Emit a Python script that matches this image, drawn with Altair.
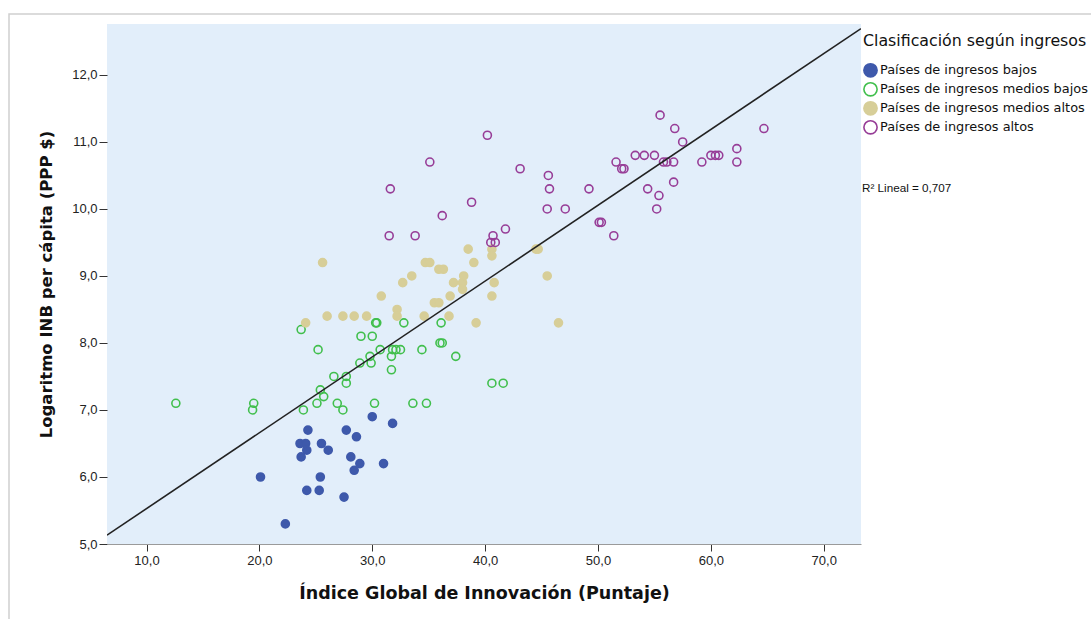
import altair as alt
import pandas as pd

grupos = [
    "Países de ingresos bajos",
    "Países de ingresos medios bajos",
    "Países de ingresos medios altos",
    "Países de ingresos altos",
]
colores = ["#3E59AB", "#41BF4D", "#D7CE98", "#973D97"]
rellenos = ["#3E59AB", "transparent", "#D7CE98", "transparent"]

bajos_x = [30.0, 31.8, 24.3, 27.7, 28.6, 23.6, 24.1, 25.5, 24.2, 26.1, 23.7, 28.1, 28.9, 31.0, 28.4, 20.1, 25.4, 24.2, 25.3, 27.5, 22.3]
bajos_y = [6.9, 6.8, 6.7, 6.7, 6.6, 6.5, 6.5, 6.5, 6.4, 6.4, 6.3, 6.3, 6.2, 6.2, 6.1, 6.0, 6.0, 5.8, 5.8, 5.7, 5.3]

medbajos_x = [12.6, 19.5, 19.4, 23.9, 25.1, 25.4, 25.7, 26.9, 27.4, 26.6, 27.7, 27.7, 30.2, 33.6, 34.8,
              23.7, 25.2, 29.0, 30.0, 30.3, 30.4, 32.8, 36.1, 28.9, 29.8, 29.9, 30.7, 31.8, 32.1, 32.5,
              31.7, 31.7, 34.4, 36.0, 36.2, 37.4, 40.6, 41.6]
medbajos_y = [7.1, 7.1, 7.0, 7.0, 7.1, 7.3, 7.2, 7.1, 7.0, 7.5, 7.5, 7.4, 7.1, 7.1, 7.1,
              8.2, 7.9, 8.1, 8.1, 8.3, 8.3, 8.3, 8.3, 7.7, 7.8, 7.7, 7.9, 7.9, 7.9, 7.9,
              7.8, 7.6, 7.9, 8.0, 8.0, 7.8, 7.4, 7.4]

medaltos_x = [25.6, 24.1, 26.0, 27.4, 28.4, 29.5, 30.8, 32.2, 32.2, 32.7, 33.5, 34.7, 35.1, 35.9, 36.3,
              34.6, 35.5, 35.9, 36.9, 36.8, 37.2, 38.0, 38.1, 38.0, 38.5, 39.0, 39.2, 40.6, 40.6, 40.6,
              40.8, 44.5, 44.7, 45.5, 46.5]
medaltos_y = [9.2, 8.3, 8.4, 8.4, 8.4, 8.4, 8.7, 8.5, 8.4, 8.9, 9.0, 9.2, 9.2, 9.1, 9.1,
              8.4, 8.6, 8.6, 8.7, 8.4, 8.9, 8.9, 9.0, 8.8, 9.4, 9.2, 8.3, 9.4, 9.3, 8.7,
              8.9, 9.4, 9.4, 9.0, 8.3]

altos_x = [40.2, 35.1, 43.1, 45.6, 45.7, 31.6, 49.2, 38.8, 36.2, 45.5, 47.1, 31.5, 33.8, 41.8, 40.7,
           40.5, 40.9, 50.1, 50.3, 55.5, 64.7, 56.8, 57.5, 62.3, 53.3, 54.1, 55.0, 60.0, 60.4, 60.7,
           51.6, 52.1, 52.3, 55.8, 56.1, 56.7, 59.2, 62.3, 56.7, 54.4, 55.4, 55.2, 51.4]
altos_y = [11.1, 10.7, 10.6, 10.5, 10.3, 10.3, 10.3, 10.1, 9.9, 10.0, 10.0, 9.6, 9.6, 9.7, 9.6,
           9.5, 9.5, 9.8, 9.8, 11.4, 11.2, 11.2, 11.0, 10.9, 10.8, 10.8, 10.8, 10.8, 10.8, 10.8,
           10.7, 10.6, 10.6, 10.7, 10.7, 10.7, 10.7, 10.7, 10.4, 10.3, 10.2, 10.0, 9.6]

x_ticks = [10, 20, 30, 40, 50, 60, 70]
y_ticks = [5, 6, 7, 8, 9, 10, 11, 12]
x_dominio = [6.5, 73.3]
y_dominio = [5.0, 12.76]
r2_texto = "R² Lineal = 0,707"

filas = []
for g, xs, ys in zip(grupos, [bajos_x, medbajos_x, medaltos_x, altos_x], [bajos_y, medbajos_y, medaltos_y, altos_y]):
    for a, b in zip(xs, ys):
        filas.append({"x": a, "y": b, "grupo": g})
df = pd.DataFrame(filas)

fmt = "replace(format(datum.value, '.1f'), '.', ',')"

x_enc = alt.X("x:Q", scale=alt.Scale(domain=x_dominio, nice=False, zero=False),
              axis=alt.Axis(values=x_ticks, labelExpr=fmt, title="Índice Global de Innovación (Puntaje)",
                            grid=False, tickSize=7, labelPadding=3, titlePadding=17,
                            titleFontSize=17.5,
                            domain=True, domainColor="#9a9a9a"))
y_enc = alt.Y("y:Q", scale=alt.Scale(domain=y_dominio, nice=False, zero=False),
              axis=alt.Axis(values=y_ticks, labelExpr=fmt, title="Logaritmo INB per cápita (PPP $)",
                            grid=False, tickSize=8, labelPadding=2, titlePadding=17,
                            titleFontSize=16.5, domain=False))

leyenda = alt.Legend(title="Clasificación según ingresos", orient="none", legendX=756, legendY=10,
                     symbolType="circle", symbolSize=175, symbolStrokeWidth=1.6,
                     labelLimit=500, titleLimit=500, labelFontSize=12.9, titleFontSize=15.8,
                     titleFontWeight="normal", titlePadding=13, rowPadding=-2, labelOffset=2,
                     labelColor="#111", titleColor="#111")

puntos = alt.Chart(df).mark_point(shape="circle", size=64, strokeWidth=1.6, opacity=1).encode(
    x=x_enc,
    y=y_enc,
    stroke=alt.Stroke("grupo:N", scale=alt.Scale(domain=grupos, range=colores), legend=leyenda),
    fill=alt.Fill("grupo:N", scale=alt.Scale(domain=grupos, range=rellenos), legend=leyenda),
)

linea = alt.Chart(df).transform_regression("x", "y", extent=x_dominio).mark_line(
    color="#222222", strokeWidth=1.6, clip=True
).encode(x="x:Q", y="y:Q")

r2 = alt.Chart(pd.DataFrame({"t": [r2_texto]})).mark_text(
    align="left", baseline="middle", fontSize=11.7, color="#111"
).encode(text="t:N", x=alt.value(755), y=alt.value(164))

marco = alt.Chart(pd.DataFrame({"k": [0]})).mark_rect(
    fill=None, stroke="#d0d0d0", strokeWidth=1.5, clip=False
).encode(x=alt.value(-98), x2=alt.value(1200), y=alt.value(-10), y2=alt.value(700))

chart = alt.layer(marco, puntos, linea, r2).properties(
    width=754, height=520,
    autosize=alt.AutoSizeParams(type="none"),
    padding={"left": 107, "top": 24, "right": 230, "bottom": 75},
    background="white",
).configure_view(fill="#E2EEFA", stroke=None).configure_axis(
    labelFont="Liberation Sans", titleFont="DejaVu Sans", labelFontSize=13,
    titleFontWeight="bold", labelColor="#222", titleColor="#111",
    tickColor="#333"
).configure_legend(labelFont="DejaVu Sans", titleFont="DejaVu Sans").configure_text(
    font="Liberation Sans")

chart.save("out.html", embed_options={"renderer": "svg", "actions": False})
